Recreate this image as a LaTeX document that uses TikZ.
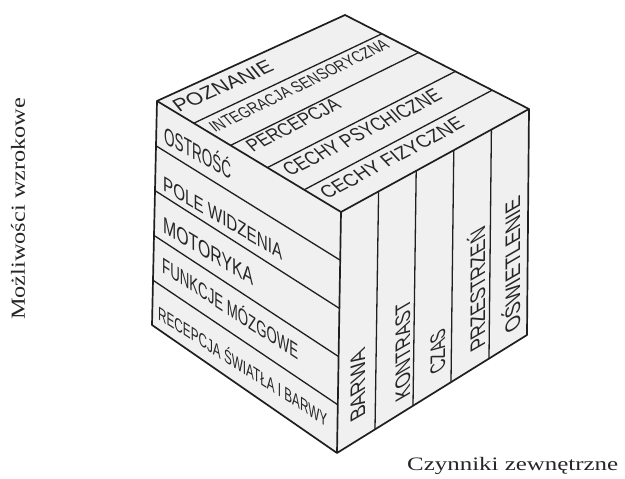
\documentclass[tikz,border=0pt]{standalone}
\usepackage{fontspec}
\usepackage{graphicx}
\setmainfont{Liberation Serif}
\newfontfamily\cubefont{Liberation Sans}
\usetikzlibrary{calc}
\newcommand\cubelabel[3]{\resizebox{#2pt}{\height}{\fontsize{#1}{#1}\selectfont\cubefont #3}}
\begin{document}
\begin{tikzpicture}[x=1pt,y=1pt,
  edge/.style={line width=1.7pt, line join=round, draw=black!88},
  div/.style={line width=1.3pt, draw=black!88},
  face/.style={fill=black!6},
  lab/.style={anchor=base west, inner sep=0pt, transform shape, text=black!85},
  side/.style={anchor=base west, inner sep=0pt, text=black!85}]
\useasboundingbox (0,0) rectangle (625,479);
\coordinate (LT) at (157,378);
\coordinate (FT) at (341,267);
\coordinate (RT) at (529,370);
\coordinate (BT) at (345,464);
\coordinate (LB) at (152,154);
\coordinate (FB) at (337,26);
\coordinate (RB) at (527,144);
\fill[face] (LT)--(BT)--(RT)--(RB)--(FB)--(LB)--cycle;
\foreach \k in {1,...,4} {
  \coordinate (l\k) at ($(LT)!\k/5!(LB)$);
  \coordinate (f\k) at ($(FT)!\k/5!(FB)$);
  \coordinate (t\k) at ($(FT)!\k/5!(RT)$);
  \coordinate (b\k) at ($(FB)!\k/5!(RB)$);
  \coordinate (p\k) at ($(LT)!\k/5!(FT)$);
  \coordinate (q\k) at ($(BT)!\k/5!(RT)$);
  \draw[div] (l\k) -- (f\k);
  \draw[div] (t\k) -- (b\k);
  \draw[div] (p\k) -- (q\k);
}
\draw[edge] (LT)--(BT)--(RT)--(RB)--(FB)--(LB)--cycle;
\draw[edge] (LT)--(FT)--(RT);
\draw[edge] (FT)--(FB);
% top face
\begin{scope}[shift={(179,366)}, rotate=24, xslant=-0.27]
  \node[lab] (poznanie) at (0,0) {\cubelabel{19}{105}{POZNANIE}};
\end{scope}
\begin{scope}[shift={(215,346)}, rotate=26, xslant=-0.27]
  \node[lab] (integracja) at (0,0) {\cubelabel{16.5}{195}{INTEGRACJA SENSORYCZNA}};
\end{scope}
\begin{scope}[shift={(253,326)}, rotate=27, xslant=-0.27]
  \node[lab] (percepcja) at (0,0) {\cubelabel{19}{100}{PERCEPCJA}};
\end{scope}
\begin{scope}[shift={(290,302)}, rotate=27, xslant=-0.27]
  \node[lab] (psych) at (0,0) {\cubelabel{20}{172}{CECHY PSYCHICZNE}};
\end{scope}
\begin{scope}[shift={(327,279)}, rotate=28, xslant=-0.27]
  \node[lab] (fiz) at (0,0) {\cubelabel{19}{157}{CECHY FIZYCZNE}};
\end{scope}
% left face
\begin{scope}[shift={(164,336)}, yslant=-0.55]
  \node[lab] (ostrosc) at (0,0) {\cubelabel{24}{67}{OSTROŚĆ}};
\end{scope}
\begin{scope}[shift={(163,289)}, yslant=-0.59]
  \node[lab] (pole) at (0,0) {\cubelabel{21}{119}{POLE WIDZENIA}};
\end{scope}
\begin{scope}[shift={(163,247)}, yslant=-0.60]
  \node[lab] (motoryka) at (0,0) {\cubelabel{23}{90}{MOTORYKA}};
\end{scope}
\begin{scope}[shift={(162,207)}, yslant=-0.65]
  \node[lab] (funkcje) at (0,0) {\cubelabel{22}{136}{FUNKCJE MÓZGOWE}};
\end{scope}
\begin{scope}[shift={(158,160)}, yslant=-0.64]
  \node[lab] (recepcja) at (0,0) {\cubelabel{19}{169}{RECEPCJA ŚWIATŁA I BARWY}};
\end{scope}
% right face
\begin{scope}[shift={(365,63)}, yslant=0.58, rotate=90]
  \node[lab] (barwa) at (0,0) {\cubelabel{21}{69}{BARWA}};
\end{scope}
\begin{scope}[shift={(410,83)}, yslant=0.58, rotate=90]
  \node[lab] (kontrast) at (0,0) {\cubelabel{21}{98}{KONTRAST}};
\end{scope}
\begin{scope}[shift={(445,110)}, yslant=0.58, rotate=90]
  \node[lab] (czas) at (0,0) {\cubelabel{21}{42}{CZAS}};
\end{scope}
\begin{scope}[shift={(485,133)}, yslant=0.58, rotate=90]
  \node[lab] (przestrzen) at (0,0) {\cubelabel{21}{121}{PRZESTRZEŃ}};
\end{scope}
\begin{scope}[shift={(520,151)}, yslant=0.58, rotate=90]
  \node[lab] (oswietlenie) at (0,0) {\cubelabel{21}{133}{OŚWIETLENIE}};
\end{scope}
% side labels
\node[side, rotate=90] (mozliwosci) at (25,159) {\resizebox{222pt}{\height}{\fontsize{20}{20}\selectfont Możliwości wzrokowe}};
\node[side] (czynniki) at (407,8) {\resizebox{211pt}{\height}{\fontsize{19}{19}\selectfont Czynniki zewnętrzne}};
\end{tikzpicture}
\end{document}
